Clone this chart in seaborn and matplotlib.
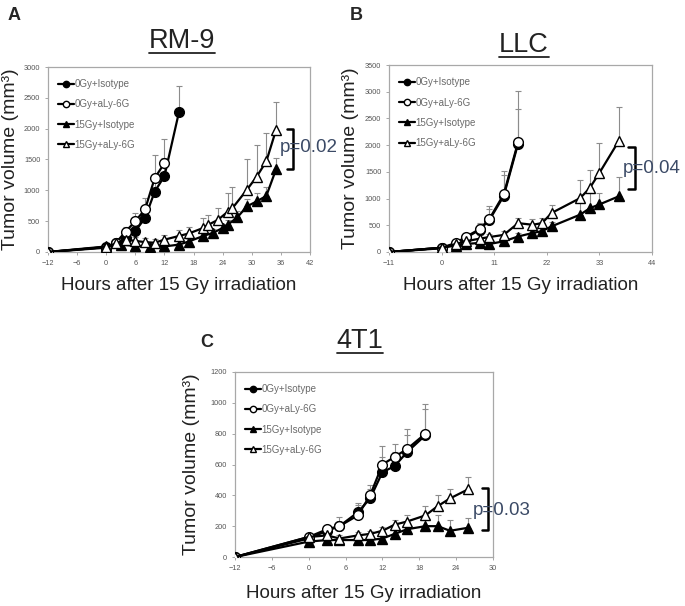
import numpy as np
import pandas as pd
import matplotlib
matplotlib.use("Agg")
import matplotlib.pyplot as plt
import seaborn as sns
from matplotlib.lines import Line2D

sns.set_theme(style="white")
plt.rcParams['font.family'] = ['Liberation Sans', 'DejaVu Sans']

SERIES = ["0Gy+Isotype", "0Gy+aLy-6G", "15Gy+Isotype", "15Gy+aLy-6G"]

# ---------------- Panel A : RM-9 ----------------
a_0iso_x = [-12, 0, 2, 4, 6, 8, 10, 12, 15]
a_0iso_y = [0, 80, 140, 220, 340, 550, 980, 1230, 2270]
a_0iso_e = [0, 20, 30, 50, 80, 120, 200, 300, 430]
a_0ly_x = [-12, 0, 2, 4, 6, 8, 10, 12]
a_0ly_y = [0, 70, 150, 330, 500, 690, 1200, 1440]
a_0ly_e = [0, 20, 40, 80, 130, 180, 370, 400]
a_15iso_x = [-12, 0, 3, 6, 9, 12, 15, 17, 20, 22, 24, 25, 27, 29, 31, 33, 35]
a_15iso_y = [0, 90, 120, 100, 80, 90, 120, 170, 260, 310, 390, 440, 560, 740, 820, 910, 1340]
a_15iso_e = [0, 15, 20, 20, 20, 20, 30, 40, 50, 60, 70, 80, 100, 120, 140, 150, 180]
a_15ly_x = [-12, 0, 2, 4, 6, 8, 10, 12, 15, 17, 20, 21, 23, 25, 26, 29, 31, 33, 35]
a_15ly_y = [0, 80, 140, 200, 180, 160, 150, 200, 260, 300, 390, 440, 520, 650, 710, 1010, 1220, 1470, 1980]
a_15ly_e = [0, 20, 40, 60, 60, 60, 60, 80, 100, 100, 160, 160, 200, 300, 350, 490, 520, 460, 460]

# ---------------- Panel B : LLC ----------------
b_0iso_x = [-11, 0, 3, 5, 8, 10, 13, 16]
b_0iso_y = [0, 70, 150, 260, 420, 600, 1050, 2030]
b_0iso_e = [0, 15, 30, 60, 100, 200, 400, 650]
b_0ly_x = [-11, 0, 3, 5, 8, 10, 13, 16]
b_0ly_y = [0, 80, 170, 280, 430, 620, 1080, 2060]
b_0ly_e = [0, 20, 40, 70, 120, 250, 430, 950]
b_15iso_x = [-11, 0, 3, 5, 8, 10, 13, 16, 19, 21, 23, 29, 31, 33, 37]
b_15iso_y = [0, 80, 120, 150, 170, 150, 200, 290, 355, 390, 480, 700, 820, 890, 1040]
b_15iso_e = [0, 15, 20, 30, 30, 30, 40, 60, 60, 60, 80, 250, 280, 220, 370]
b_15ly_x = [-11, 0, 3, 5, 8, 10, 13, 16, 19, 21, 23, 29, 31, 33, 37]
b_15ly_y = [0, 80, 150, 200, 250, 280, 320, 540, 510, 540, 730, 1010, 1200, 1480, 2070]
b_15ly_e = [0, 20, 30, 40, 60, 60, 80, 100, 100, 100, 155, 340, 340, 560, 650]

# ---------------- Panel C : 4T1 ----------------
c_0iso_x = [-12, 0, 3, 5, 8, 10, 12, 14, 16, 19]
c_0iso_y = [0, 120, 170, 200, 290, 380, 550, 590, 680, 790]
c_0iso_e = [0, 10, 20, 30, 50, 60, 100, 90, 110, 170]
c_0ly_x = [-12, 0, 3, 5, 8, 10, 12, 14, 16, 19]
c_0ly_y = [0, 130, 180, 200, 270, 400, 600, 650, 700, 800]
c_0ly_e = [0, 15, 20, 60, 80, 70, 120, 80, 130, 195]
c_15iso_x = [-12, 0, 3, 5, 8, 10, 12, 14, 16, 19, 21, 23, 26]
c_15iso_y = [0, 100, 110, 110, 110, 110, 120, 150, 180, 200, 200, 170, 190]
c_15iso_e = [0, 10, 10, 15, 20, 20, 20, 30, 40, 60, 70, 70, 60]
c_15ly_x = [-12, 0, 3, 5, 8, 10, 12, 14, 16, 19, 21, 23, 26]
c_15ly_y = [0, 130, 140, 120, 140, 150, 170, 210, 230, 270, 330, 380, 440]
c_15ly_e = [0, 10, 15, 20, 20, 20, 25, 30, 40, 60, 70, 60, 80]

STYLE = {
    "0Gy+Isotype": dict(marker="o", markerfacecolor="black"),
    "0Gy+aLy-6G": dict(marker="o", markerfacecolor="white"),
    "15Gy+Isotype": dict(marker="^", markerfacecolor="black"),
    "15Gy+aLy-6G": dict(marker="^", markerfacecolor="white"),
}

panels = [
    dict(letter="A", title="RM-9",
         data=[(a_0iso_x, a_0iso_y, a_0iso_e), (a_0ly_x, a_0ly_y, a_0ly_e),
               (a_15iso_x, a_15iso_y, a_15iso_e), (a_15ly_x, a_15ly_y, a_15ly_e)],
         xticks=[-12, -6, 0, 6, 12, 18, 24, 30, 36, 42],
         yticks=[0, 500, 1000, 1500, 2000, 2500, 3000],
         rect=[48, 67, 310, 252], p="p=0.02",
         br=(37.3, 38.5, 1340, 1990), ptxt=(35.8, 1690),
         letter_xy=(8, 20), title_xy=(182, 41), ylab_x=-0.11, xlab_y=-0.135),
    dict(letter="B", title="LLC",
         data=[(b_0iso_x, b_0iso_y, b_0iso_e), (b_0ly_x, b_0ly_y, b_0ly_e),
               (b_15iso_x, b_15iso_y, b_15iso_e), (b_15ly_x, b_15ly_y, b_15ly_e)],
         xticks=[-11, 0, 11, 22, 33, 44],
         yticks=[0, 500, 1000, 1500, 2000, 2500, 3000, 3500],
         rect=[389, 65, 652, 252], p="p=0.04",
         br=(39.0, 40.4, 1170, 1970), ptxt=(37.9, 1570),
         letter_xy=(350, 20), title_xy=(524, 45), ylab_x=-0.115, xlab_y=-0.135),
    dict(letter="C", title="4T1",
         data=[(c_0iso_x, c_0iso_y, c_0iso_e), (c_0ly_x, c_0ly_y, c_0ly_e),
               (c_15iso_x, c_15iso_y, c_15iso_e), (c_15ly_x, c_15ly_y, c_15ly_e)],
         xticks=[-12, -6, 0, 6, 12, 18, 24, 30],
         yticks=[0, 200, 400, 600, 800, 1000, 1200],
         rect=[235, 372, 493, 557], p="p=0.03",
         br=(28.2, 29.2, 175, 448), ptxt=(26.7, 300),
         letter_xy=(200, 347), title_xy=(360, 341), ylab_x=-0.136, xlab_y=-0.152),
]

W, H = 685, 606
fig = plt.figure(figsize=(W / 100, H / 100), dpi=100)
titles = []

for pnl in panels:
    l, t, r, b = pnl["rect"]
    ax = fig.add_axes([l / W, 1 - b / H, (r - l) / W, (b - t) / H])
    for name, (xs, ys, es) in zip(SERIES, pnl["data"]):
        xs = np.asarray(xs); ys = np.asarray(ys); es = np.asarray(es)
        ax.errorbar(xs, ys, yerr=[np.zeros_like(es), es], fmt="none",
                    ecolor="#8c8c8c", elinewidth=0.8, capsize=2.2, capthick=0.8, zorder=1)
        df = pd.DataFrame({"x": xs, "y": ys})
        sns.lineplot(data=df, x="x", y="y", ax=ax, color="black", linewidth=1.6,
                     markersize=7, markeredgecolor="black", markeredgewidth=1.0,
                     label=name, zorder=3, **STYLE[name])
    ax.set_xlim(pnl["xticks"][0], pnl["xticks"][-1])
    ax.set_ylim(pnl["yticks"][0], pnl["yticks"][-1])
    ax.set_xticks(pnl["xticks"])
    ax.set_yticks(pnl["yticks"])
    ax.tick_params(bottom=True, left=True, length=2.5, width=0.6, color="#999999",
                   labelsize=5.3, labelcolor="#555555", pad=3)
    for s in ax.spines.values():
        s.set_color("#a8a8a8")
        s.set_linewidth(0.9)
    ax.set_xlabel("Hours after 15 Gy irradiation", fontsize=13.5, color="#222222")
    ax.set_ylabel("Tumor volume (mm³)", fontsize=14, color="#222222")
    ax.yaxis.set_label_coords(pnl["ylab_x"], 0.5)
    ax.xaxis.set_label_coords(0.5, pnl["xlab_y"])
    leg = ax.legend(loc="upper left", bbox_to_anchor=(0.025, 0.955), borderaxespad=0,
                    frameon=False, fontsize=7, handlelength=1.6, handletextpad=0.05,
                    labelspacing=1.05, markerscale=0.65)
    for txt in leg.get_texts():
        txt.set_color("#6a6a6a")
    # significance bracket
    x0, x1, y0, y1 = pnl["br"]
    ax.plot([x0, x1, x1, x0], [y1, y1, y0, y0], color="black", lw=1.8,
            clip_on=False, zorder=4)
    ax.text(pnl["ptxt"][0], pnl["ptxt"][1], pnl["p"], fontsize=13.5, color="#3b4a66",
            ha="left", va="center", clip_on=False, zorder=5)
    # panel letter & title
    fig.text(pnl["letter_xy"][0] / W, 1 - pnl["letter_xy"][1] / H, pnl["letter"],
             fontsize=13, fontweight="bold", ha="left", va="baseline")
    tt = fig.text(pnl["title_xy"][0] / W, 1 - pnl["title_xy"][1] / H, pnl["title"],
                  fontsize=19.5, ha="center", va="center", color="#222222")
    titles.append(tt)

fig.canvas.draw()
rend = fig.canvas.get_renderer()
for tt in titles:
    bb = tt.get_window_extent(rend)
    yline = bb.y0 + 1
    fig.add_artist(Line2D([bb.x0 / W, bb.x1 / W], [yline / H, yline / H],
                          color="#222222", lw=1.3, transform=fig.transFigure))

fig.savefig("out.png", dpi=100)
